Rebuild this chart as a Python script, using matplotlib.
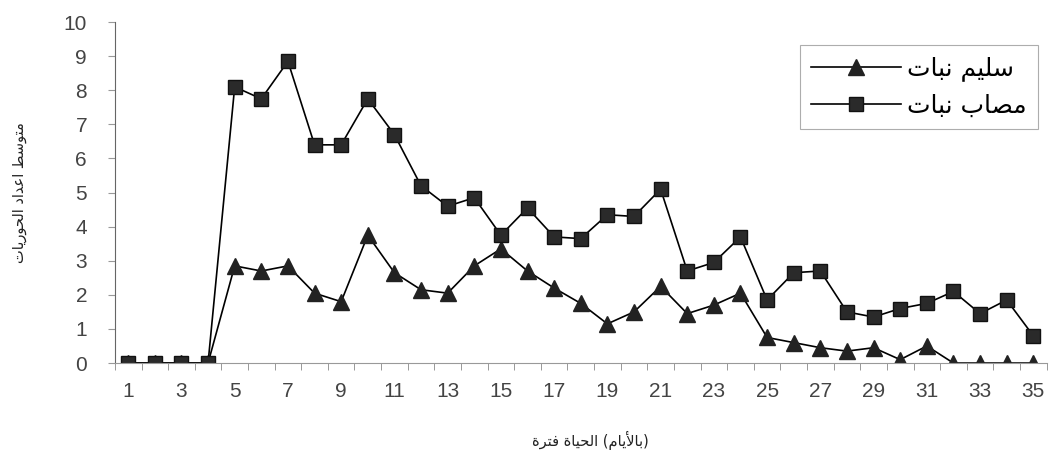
import numpy as np
import matplotlib
matplotlib.use("Agg")
import matplotlib.pyplot as plt

# days and mean counts
days = np.arange(1, 36)
healthy = [0, 0, 0, 0, 2.85, 2.7, 2.85, 2.05, 1.8, 3.75, 2.65, 2.15, 2.05, 2.85,
           3.35, 2.7, 2.2, 1.75, 1.15, 1.5, 2.25, 1.45, 1.7, 2.05, 0.75, 0.6,
           0.45, 0.35, 0.45, 0.1, 0.5, 0, 0, 0, 0]
infected = [0, 0, 0, 0, 8.1, 7.75, 8.85, 6.4, 6.4, 7.75, 6.7, 5.2, 4.6, 4.85,
            3.75, 4.55, 3.7, 3.65, 4.35, 4.3, 5.1, 2.7, 2.95, 3.7, 1.85, 2.65,
            2.7, 1.5, 1.35, 1.6, 1.75, 2.1, 1.45, 1.85, 0.8]
xtick_labels = [str(d) for d in range(1, 36, 2)]

# arabic text typed in shaped presentation forms, already in display order
# (matplotlib does no shaping / bidi itself)
lbl_healthy = "\uFE95\uFE8E\uFE92\uFEE7" + " " + "\uFEE2\uFEF4\uFEE0\uFEB3"   # نبات سليم
lbl_infected = "\uFE95\uFE8E\uFE92\uFEE7" + " " + "\uFE8F\uFE8E\uFEBC\uFEE3"  # نبات مصاب
ylab = ("\uFE95\uFE8E\uFEF3\uFEAD\uFEEE\uFEA4\uFEDF\uFE8D" + " "
        + "\uFEA9\uFE8D\uFEAA\uFECB\uFE8D" + " "
        + "\uFEC2\uFEB3\uFEEE\uFE98\uFEE3")                                   # متوسط اعداد الحوريات
xlab = ("\uFE93\uFEAE\uFE98\uFED3" + " " + "\uFE93\uFE8E\uFEF4\uFEA4\uFEDF\uFE8D" + " "
        + "(\uFEE1\uFE8E\uFEF3\uFEF7\uFE8E\uFE91)")                           # فترة الحياة (بالأيام)

plt.rcParams['font.family'] = ['Liberation Sans', 'DejaVu Sans']

fig = plt.figure(figsize=(10.54, 4.51), dpi=100)
ax = fig.add_axes([0.109, 0.195, 0.884, 0.756])

ax.plot(days, healthy, color="black", lw=1.2, marker="^", markersize=11,
        markerfacecolor="#222222", markeredgecolor="#222222", label=lbl_healthy)
ax.plot(days, infected, color="black", lw=1.2, marker="s", markersize=9.5,
        markerfacecolor="#2a2a2a", markeredgecolor="#111111", label=lbl_infected)

ax.set_xlim(0.5, 35.5)
ax.set_ylim(0, 10)
ax.set_yticks(range(0, 11))
ax.set_xticks(range(1, 36, 2))
ax.set_xticklabels(xtick_labels)
ax.set_xticks(np.arange(0.5, 36, 1), minor=True)
ax.tick_params(axis="x", which="major", length=0, pad=14, labelsize=15, colors="#444444")
ax.tick_params(axis="x", which="minor", length=5, color="#888888", direction="out")
ax.tick_params(axis="y", length=5, color="#999999", labelsize=15, colors="#444444", pad=15)
for lab in ax.get_yticklabels():
    lab.set_color("#444444")

for s in ["top", "right"]:
    ax.spines[s].set_visible(False)
ax.spines["left"].set_color("#666666")
ax.spines["bottom"].set_color("#999999")

ax.set_ylabel(ylab, family="DejaVu Sans", fontsize=10.5, color="#222222")
ax.yaxis.set_label_coords(-0.094, 0.5)
ax.set_xlabel(xlab, family="DejaVu Sans", fontsize=10.5, color="#222222")
ax.xaxis.set_label_coords(0.51, -0.2)

leg = ax.legend(loc="upper right", bbox_to_anchor=(1038 / 1054, 1 - 45 / 451),
                bbox_transform=fig.transFigure, borderaxespad=0, frameon=True,
                fancybox=False, edgecolor="#999999",
                prop={"family": "DejaVu Sans", "size": 18},
                handlelength=3.6, handletextpad=0.25, borderpad=0.45,
                labelspacing=0.5)
leg.get_frame().set_linewidth(0.8)

fig.savefig("out.png", dpi=100, facecolor="white")
